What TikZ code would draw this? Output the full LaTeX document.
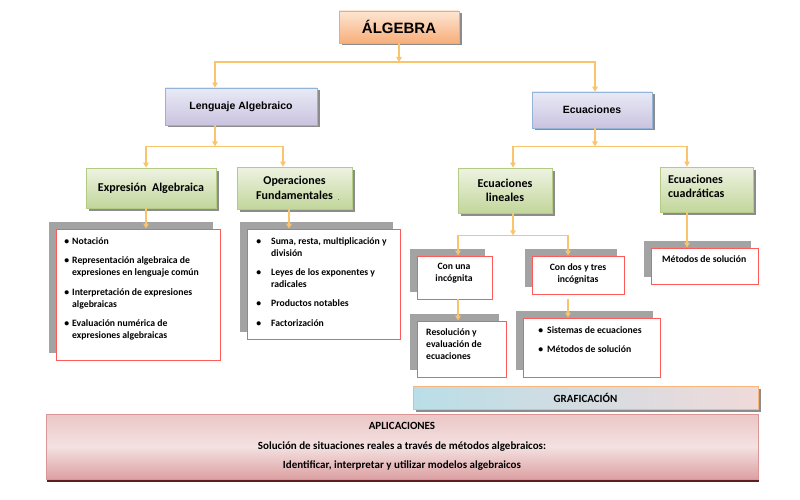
\documentclass[tikz,border=0pt]{standalone}
\usepackage{fontspec}
\setmainfont{Carlito}
\newfontfamily\hfont{Liberation Sans}
\usetikzlibrary{shadows,arrows.meta}
\definecolor{conncol}{HTML}{F9C46B}
\definecolor{shgray}{HTML}{8C8C8C}
\definecolor{lgray}{HTML}{A3A3A3}
\definecolor{algtop}{HTML}{FDE6D3}
\definecolor{algbot}{HTML}{F8AE7A}
\definecolor{algbrd}{HTML}{F5A970}
\definecolor{hdrtop}{HTML}{E8EAF6}
\definecolor{hdrbot}{HTML}{CBC3DF}
\definecolor{hdrbrd}{HTML}{95B3D7}
\definecolor{grntop}{HTML}{EEF3E2}
\definecolor{grnbot}{HTML}{C2D69B}
\definecolor{grnbrd}{HTML}{B3CB85}
\definecolor{redbrd}{HTML}{FF5A5A}
\definecolor{grafl}{HTML}{B9DEE8}
\definecolor{grafr}{HTML}{F0DADA}
\definecolor{grafbrd}{HTML}{F9B57A}
\definecolor{apltop}{HTML}{EBC6C6}
\definecolor{aplmid}{HTML}{F4E1E1}
\definecolor{aplbot}{HTML}{DCA0A2}
\definecolor{aplbrd}{HTML}{D99694}
\definecolor{aplsh}{HTML}{5C1F1F}
\begin{document}
\begin{tikzpicture}[x=1pt,y=-1pt,
  conn/.style={draw=conncol, line width=1.4pt, -{Triangle[width=5.5pt,length=5pt]}},
  dsh/.style={drop shadow={shadow xshift=2.5pt, shadow yshift=-2.5pt, fill=shgray, opacity=1}},
  algbox/.style={draw=algbrd, line width=0.8pt, top color=algtop, bottom color=algbot, dsh, inner sep=0pt,
    font=\hfont\bfseries\fontsize{15}{18}\selectfont},
  hdrbox/.style={draw=hdrbrd, line width=0.8pt, top color=hdrtop, bottom color=hdrbot, dsh, inner sep=0pt,
    font=\hfont\bfseries\fontsize{10.5}{12}\selectfont},
  grnbox/.style={draw=grnbrd, line width=0.8pt, top color=grntop, bottom color=grnbot, dsh, inner sep=0pt,
    align=center, font=\bfseries\fontsize{12}{14.5}\selectfont},
  lbox/.style={draw=redbrd, line width=0.9pt, fill=white, inner sep=0pt,
    drop shadow={shadow xshift=-7pt, shadow yshift=7pt, fill=lgray, opacity=1}},
  itm/.style={anchor=north west, align=left, inner sep=0pt, font=\bfseries\fontsize{9.7}{12}\selectfont},
  ctxt/.style={align=center, inner sep=0pt, font=\bfseries\fontsize{9.7}{12}\selectfont},
]
\useasboundingbox (0,0) rectangle (800,500);

% ---------- boxes ----------
\node[algbox, minimum width=120pt, minimum height=32pt] (alg) at (399,27) {ÁLGEBRA};
\node[hdrbox, minimum width=152pt, minimum height=37pt] (leng) at (241,106.5) {Lenguaje Algebraico};
\node[hdrbox, minimum width=120pt, minimum height=36pt] (ecu) at (592,110) {Ecuaciones};

\node[grnbox, minimum width=130pt, minimum height=40pt] (expr) at (151,188) {Expresión~~Algebraica};
\node[grnbox, minimum width=115pt, minimum height=42pt] (oper) at (294.5,188) {Operaciones\\Fundamentales};
\node[font=\fontsize{6}{6}\selectfont, inner sep=0pt] (dot) at (339,200) {.};
\node[grnbox, minimum width=94pt, minimum height=45pt] (lin) at (505,190.5) {Ecuaciones\\lineales};
\node[grnbox, minimum width=93pt, minimum height=45pt] (cuad) at (706.5,189.5) {};
\node[anchor=west, align=left, inner sep=0pt, font=\bfseries\fontsize{12}{14.5}\selectfont] (cuadtxt) at (668,186.5) {Ecuaciones\\cuadráticas};

\node[lbox, minimum width=164pt, minimum height=131pt] (box1) at (138,294.5) {};
\node[lbox, minimum width=153pt, minimum height=110pt] (box2) at (323.5,284) {};
\node[lbox, minimum width=75pt, minimum height=43pt] (conuna) at (454.5,277.5) {};
\node[lbox, minimum width=92pt, minimum height=38pt] (condos) at (578,275) {};
\node[lbox, minimum width=107pt, minimum height=36pt] (met) at (704.5,266) {};
\node[lbox, minimum width=89pt, minimum height=56pt] (resol) at (461.5,349) {};
\node[lbox, minimum width=137pt, minimum height=59pt] (sist) at (591.5,347.5) {};

\node[draw=grafbrd, line width=0.8pt, left color=grafl, right color=grafr, dsh, inner sep=0pt,
  minimum width=345pt, minimum height=23pt, font=\bfseries\fontsize{11}{13}\selectfont] (graf) at (585.5,397.5) {GRAFICACIÓN};
\node[draw=aplbrd, line width=0.6pt, top color=apltop, bottom color=aplbot, middle color=aplmid,
  drop shadow={shadow xshift=1pt, shadow yshift=-3pt, fill=aplsh, opacity=1}, inner sep=0pt,
  minimum width=712pt, minimum height=65pt, align=center, font=\bfseries\fontsize{11}{19.5}\selectfont] (apl) at (402,446.5)
  {APLICACIONES\\Solución de situaciones reales a través de métodos algebraicos:\\Identificar, interpretar y utilizar modelos algebraicos};

% ---------- list texts ----------
\node[itm] (b1a) at (72,236) {\strut\llap{\textbullet\hspace{3pt}}Notación};
\node[itm] (b1b) at (72,255) {\strut\llap{\textbullet\hspace{3pt}}Representación algebraica de\\expresiones en lenguaje común};
\node[itm] (b1c) at (72,286.5) {\strut\llap{\textbullet\hspace{3pt}}Interpretación de expresiones\\algebraicas};
\node[itm] (b1d) at (72,318) {\strut\llap{\textbullet\hspace{3pt}}Evaluación numérica de\\expresiones algebraicas};

\node[itm] (b2a) at (271,236) {\strut\llap{\textbullet\hspace{10pt}}Suma, resta, multiplicación y\\división};
\node[itm] (b2b) at (271,267) {\strut\llap{\textbullet\hspace{10pt}}Leyes de los exponentes y\\radicales};
\node[itm] (b2c) at (271,298) {\strut\llap{\textbullet\hspace{10pt}}Productos notables};
\node[itm] (b2d) at (271,318) {\strut\llap{\textbullet\hspace{10pt}}Factorización};

\node[ctxt] (conunatxt) at (454,273.5) {Con una\\incógnita};
\node[ctxt] (condostxt) at (578,273.5) {Con dos y tres\\incógnitas};
\node[itm] (mettxt) at (662,254) {\strut Métodos de solución};
\node[itm] (resoltxt) at (426,327) {\strut Resolución y\\evaluación de\\ecuaciones};
\node[itm] (sista) at (547,325) {\strut\llap{\textbullet\hspace{4pt}}Sistemas de ecuaciones};
\node[itm] (sistb) at (547,344) {\strut\llap{\textbullet\hspace{4pt}}Métodos de solución};

% ---------- connectors ----------
\coordinate (j1) at (399,62);
\coordinate (lengT) at ([xshift=-26pt]leng.north);
\coordinate (ecuT) at ([xshift=3pt]ecu.north);
\draw[conn] (alg.south) -- (j1);
\draw[conn] (j1) -| (lengT);
\draw[conn] (j1) -| (ecuT);

\coordinate (lengB) at ([xshift=-26pt]leng.south);
\coordinate (j2) at ([yshift=-21pt]lengB);
\coordinate (exprT) at ([xshift=-5pt]expr.north);
\coordinate (operT) at ([xshift=-11.5pt]oper.north);
\draw[conn] (lengB) -- (j2);
\draw[conn] (j2) -| (exprT);
\draw[conn] (j2) -| (operT);
\draw[conn] (exprT |- expr.south) -- (exprT |- box1.north);
\coordinate (operB) at ([xshift=-5.5pt]oper.south);
\draw[conn] (operB) -- (operB |- box2.north);

\coordinate (ecuB) at ([xshift=3pt]ecu.south);
\coordinate (j3) at ([yshift=-18pt]ecuB);
\coordinate (linT) at ([xshift=8pt]lin.north);
\coordinate (cuadT) at ([xshift=-19.5pt]cuad.north);
\draw[conn] (ecuB) -- (j3);
\draw[conn] (j3) -| (linT);
\draw[conn] (j3) -| (cuadT);

\coordinate (linB) at ([xshift=8pt]lin.south);
\coordinate (j4) at ([yshift=-22pt]linB);
\coordinate (conunaT) at ([xshift=3.5pt]conuna.north);
\coordinate (condosT) at ([xshift=-10pt]condos.north);
\draw[conn] (linB) -- (j4);
\draw[conn] (j4) -| (conunaT);
\draw[conn] (j4) -| (condosT);
\draw[conn] (cuadT |- cuad.south) -- (cuadT |- met.north);
\draw[conn] (conunaT |- conuna.south) -- (conunaT |- resol.north);
\draw[conn, shorten <=5pt] (condosT |- condos.south) -- (condosT |- sist.north);
\end{tikzpicture}
\end{document}
